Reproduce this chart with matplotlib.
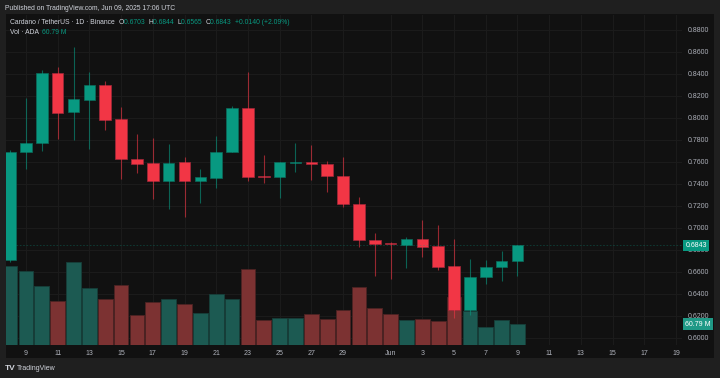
import numpy as np
import pandas as pd
import matplotlib
matplotlib.use("Agg")
import matplotlib.pyplot as plt
from matplotlib.patches import Rectangle
from matplotlib.transforms import blended_transform_factory

plt.rcParams["font.family"] = ["Liberation Sans", "DejaVu Sans"]

# ADA/USDT daily candles, May 8 - Jun 9 2025
dates = pd.date_range("2025-05-08", "2025-06-09", freq="D")
opens = [0.6709, 0.7691, 0.7770, 0.8406, 0.8052, 0.8166, 0.8300, 0.7988, 0.7624, 0.7588, 0.7425,
         0.7597, 0.7425, 0.7457, 0.7691, 0.8094, 0.7470, 0.7464, 0.7595, 0.7600, 0.7582, 0.7473,
         0.7218, 0.6888, 0.6860, 0.6848, 0.6897, 0.6834, 0.6652, 0.6252, 0.6552, 0.6643, 0.6703]
highs = [0.7710, 0.8179, 0.8436, 0.8467, 0.8643, 0.8418, 0.8336, 0.8100, 0.7855, 0.7815, 0.7764,
         0.7648, 0.7536, 0.7836, 0.8109, 0.8415, 0.7664, 0.7597, 0.7770, 0.7755, 0.7612, 0.7648,
         0.7279, 0.6952, 0.6875, 0.6918, 0.7073, 0.7025, 0.6897, 0.6718, 0.6706, 0.6791, 0.6844]
lows = [0.6690, 0.7536, 0.7703, 0.7809, 0.7800, 0.7715, 0.7888, 0.7448, 0.7503, 0.7266, 0.7173,
        0.7103, 0.7225, 0.7366, 0.7691, 0.7430, 0.7409, 0.7276, 0.7512, 0.7436, 0.7325, 0.7194,
        0.6824, 0.6564, 0.6539, 0.6634, 0.6739, 0.6618, 0.6185, 0.6209, 0.6494, 0.6515, 0.6565]
closes = [0.7691, 0.7773, 0.8406, 0.8048, 0.8170, 0.8300, 0.7982, 0.7624, 0.7585, 0.7425, 0.7594,
          0.7425, 0.7461, 0.7691, 0.8094, 0.7467, 0.7467, 0.7597, 0.7600, 0.7580, 0.7473, 0.7215,
          0.6888, 0.6857, 0.6850, 0.6897, 0.6830, 0.6648, 0.6252, 0.6552, 0.6643, 0.6703, 0.6843]
volumes = [229, 214, 171, 127, 240, 165, 133, 175, 87, 124, 132, 118, 92, 147, 132, 220, 72,
           78, 78, 90, 74, 101, 168, 107, 90, 71, 74, 70, 140, 97, 52, 71, 60.79]  # millions ADA

price_ticks = [0.60, 0.62, 0.64, 0.66, 0.68, 0.70, 0.72, 0.74, 0.76, 0.78, 0.80, 0.82, 0.84, 0.86, 0.88]
tick_dates = pd.to_datetime(["2025-05-09", "2025-05-11", "2025-05-13", "2025-05-15", "2025-05-17",
                             "2025-05-19", "2025-05-21", "2025-05-23", "2025-05-25", "2025-05-27",
                             "2025-05-29", "2025-06-01", "2025-06-03", "2025-06-05", "2025-06-07",
                             "2025-06-09", "2025-06-11", "2025-06-13", "2025-06-15", "2025-06-17",
                             "2025-06-19"])
tick_labels = ["9", "11", "13", "15", "17", "19", "21", "23", "25", "27", "29",
               "Jun", "3", "5", "7", "9", "11", "13", "15", "17", "19"]

GREEN = "#089981"
RED = "#f23645"
VOL_GREEN = "#1c5a52"
VOL_RED = "#7c3232"
PANE = "#111111"
TXT = "#d1d4dc"
AXTXT = "#aeb1ba"
FS = 4.9     # header / legend
TFS = 5.0    # axis labels

o = np.array(opens)
h = np.array(highs)
l = np.array(lows)
c = np.array(closes)
v = np.array(volumes)
x = np.array((dates - dates[0]).days)
xt = np.array((tick_dates - dates[0]).days)
up = c >= o

W, H = 720, 378
fig = plt.figure(figsize=(7.2, 3.78), dpi=100, facecolor="#1f1f1f")


def px(x0, y0, w, hh):
    return [x0 / W, 1 - (y0 + hh) / H, w / W, hh / H]


fig.patches.append(Rectangle((6 / W, 20 / H), 708 / W, 344 / H, transform=fig.transFigure,
                             facecolor=PANE, edgecolor="none", zorder=-10))

rect = px(6, 15, 676, 330)
ax_bg = fig.add_axes(rect, facecolor=PANE)
ax_vol = fig.add_axes(rect, sharex=ax_bg, facecolor="none")
ax = fig.add_axes(rect, sharex=ax_bg, sharey=ax_bg, facecolor="none")

ax_bg.set_xlim(-0.26, 42.38)
ax_bg.set_ylim(0.5936, 0.8936)

# grid + axis labels on the background axes
ax_bg.set_yticks(price_ticks)
ax_bg.set_yticklabels([f"{t:.4f}" for t in price_ticks])
ax_bg.set_xticks(xt)
ax_bg.set_xticklabels(tick_labels)
ax_bg.yaxis.tick_right()
ax_bg.tick_params(axis="y", length=0, pad=4.5, labelsize=TFS, labelcolor=AXTXT)
ax_bg.tick_params(axis="x", length=0, pad=3.3, labelsize=TFS, labelcolor=AXTXT)
ax_bg.grid(True, color="#1c1c1c", linewidth=0.7)
for s in ax_bg.spines.values():
    s.set_visible(False)

# volume
vol_cols = np.where(up, VOL_GREEN, VOL_RED)
vol_edges = np.where(up, "#163f3a", "#4d2323")
ax_vol.bar(x, v, width=0.93, color=vol_cols, edgecolor=vol_edges, linewidth=0.6)
ax_vol.set_ylim(0, 330 * 60.79 / 21)
ax_vol.axis("off")

# candles
cols = np.where(up, GREEN, RED)
edges = np.where(up, "#0b6b5b", "#a3283a")
ax.vlines(x, l, h, colors=cols, linewidth=0.8, alpha=0.6)
body_lo = np.minimum(o, c)
body_h = np.maximum(np.abs(c - o), 0.0009)
ax.bar(x, body_h, bottom=body_lo, width=0.73, color=cols, edgecolor=edges, linewidth=0.5)
ax.axhline(c[-1], color=GREEN, linewidth=0.6, linestyle=(0, (2, 2)), alpha=0.35)
ax.axis("off")

# last price / last volume labels on the scale
tr = blended_transform_factory(ax_bg.transAxes, ax_bg.transData)
ax_bg.annotate(f"{c[-1]:.4f}", xy=(1, c[-1]), xycoords=tr, xytext=(2.5, 0), textcoords="offset points",
               ha="left", va="center", fontsize=TFS, color="white", annotation_clip=False,
               bbox=dict(boxstyle="square,pad=0.3", facecolor=GREEN, edgecolor="none"))
trv = blended_transform_factory(ax_vol.transAxes, ax_vol.transData)
ax_vol.annotate(f"{v[-1]:.2f} M", xy=(1, v[-1]), xycoords=trv, xytext=(2.5, 0), textcoords="offset points",
                ha="left", va="center", fontsize=TFS, color="white", annotation_clip=False,
                bbox=dict(boxstyle="square,pad=0.3", facecolor="#1f9986", edgecolor="none"))

# header
fig.text(5 / W, 1 - 8 / H, "Published on TradingView.com, Jun 09, 2025 17:06 UTC",
         fontsize=FS, color=TXT, va="center", ha="left")

chg = c[-1] - c[-2]
segs = [("O", TXT), (f"{o[-1]:.4f}  ", GREEN), ("H", TXT), (f"{h[-1]:.4f}  ", GREEN),
        ("L", TXT), (f"{l[-1]:.4f}  ", GREEN), ("C", TXT), (f"{c[-1]:.4f}  ", GREEN),
        (f"{chg:+.4f} ({chg / c[-2] * 100:+.2f}%)", GREEN)]
prev = fig.text(10 / W, 1 - 23 / H, "Cardano / TetherUS · 1D · Binance  ", fontsize=FS,
                color=TXT, va="center", ha="left")
for s, col in segs:
    prev = ax.annotate(s, xy=(1, 0.5), xycoords=prev, fontsize=FS, color=col,
                       va="center", ha="left", annotation_clip=False)

prev = fig.text(10 / W, 1 - 32 / H, "Vol · ADA  ", fontsize=FS, color=TXT, va="center", ha="left")
ax.annotate(f"{v[-1]:.2f} M", xy=(1, 0.5), xycoords=prev, fontsize=FS, color=GREEN,
            va="center", ha="left", annotation_clip=False)

# footer logo
fig.text(5 / W, 1 - 369 / H, "TV", fontsize=6, fontweight="bold", color=TXT, va="center", ha="left")
fig.text(17 / W, 1 - 369 / H, "TradingView", fontsize=TFS, color=TXT, va="center", ha="left")

fig.savefig("out.png", dpi=100, facecolor=fig.get_facecolor())
